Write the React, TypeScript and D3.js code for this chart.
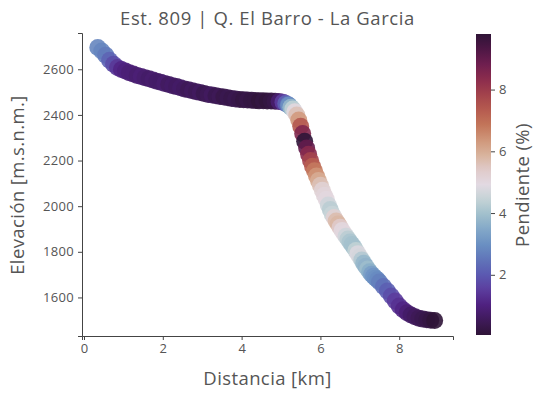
import React, { useEffect, useRef } from "react";
import * as d3 from "d3";

// distance along the stream [km]
const distancia = [
  0.35, 0.45, 0.55, 0.65, 0.75, 0.85, 0.95, 1.05, 1.15, 1.25,
  1.35, 1.45, 1.55, 1.65, 1.75, 1.85, 1.95, 2.05, 2.15, 2.25,
  2.35, 2.45, 2.55, 2.65, 2.75, 2.85, 2.95, 3.05, 3.15, 3.25,
  3.35, 3.45, 3.55, 3.65, 3.75, 3.85, 3.95, 4.05, 4.15, 4.25,
  4.35, 4.45, 4.55, 4.65, 4.75, 4.85, 4.95, 5.05, 5.12, 5.18,
  5.20, 5.25, 5.30, 5.35, 5.40, 5.45, 5.50, 5.55, 5.60, 5.65,
  5.70, 5.75, 5.80, 5.85, 5.90, 5.95, 6.00, 6.05, 6.10, 6.15,
  6.20, 6.25, 6.30, 6.35, 6.40, 6.45, 6.50, 6.55, 6.60, 6.65,
  6.70, 6.75, 6.80, 6.85, 6.90, 6.95, 7.00, 7.05, 7.10, 7.15,
  7.20, 7.25, 7.30, 7.35, 7.40, 7.45, 7.50, 7.60, 7.70, 7.80,
  7.90, 8.00, 8.10, 8.20, 8.30, 8.40, 8.50, 8.60, 8.70, 8.80,
  8.90,
];

// elevation [m.s.n.m.]
const elevacion = [
  2695, 2680, 2662, 2640, 2622, 2608, 2599, 2592, 2585, 2579,
  2573, 2568, 2563, 2558, 2553, 2548, 2543, 2538, 2533, 2528,
  2524, 2519, 2514, 2510, 2506, 2502, 2498, 2494, 2490, 2487,
  2484, 2481, 2478, 2475, 2472, 2470, 2468, 2466, 2465, 2464,
  2463, 2462, 2462, 2461, 2461, 2460, 2459, 2456, 2450, 2445,
  2442, 2434, 2426, 2414, 2400, 2378, 2350, 2318, 2285, 2255,
  2228, 2200, 2175, 2155, 2132, 2112, 2092, 2070, 2048, 2030,
  2005, 1985, 1965, 1950, 1935, 1922, 1908, 1893, 1880, 1868,
  1856, 1843, 1832, 1820, 1806, 1792, 1778, 1764, 1750, 1737,
  1725, 1713, 1702, 1693, 1684, 1677, 1668, 1648, 1628, 1606,
  1584, 1562, 1546, 1533, 1523, 1515, 1509, 1505, 1502, 1500,
  1499,
];

// slope [%]
const pendiente = [
  2.8, 2.8, 2.6, 2.2, 1.8, 1.4, 1.1, 1.0, 0.9, 0.9,
  0.8, 0.9, 0.8, 0.7, 0.8, 0.7, 0.7, 0.8, 0.6, 0.7,
  0.6, 0.7, 0.6, 0.5, 0.6, 0.5, 0.6, 0.4, 0.5, 0.6,
  0.4, 0.5, 0.3, 0.4, 0.3, 0.4, 0.3, 0.2, 0.3, 0.2,
  0.2, 0.1, 0.2, 0.1, 0.2, 0.3, 0.8, 1.5, 2.2, 2.7,
  3.0, 3.8, 4.4, 5.0, 5.6, 6.3, 7.4, 8.5, 9.8, 9.0,
  8.4, 7.8, 7.3, 6.8, 6.4, 6.0, 5.6, 5.2, 5.1, 5.0,
  4.6, 4.3, 4.5, 5.2, 5.7, 5.8, 5.4, 5.0, 5.0, 4.6,
  4.3, 4.1, 4.0, 4.0, 4.4, 4.8, 4.7, 4.2, 3.8, 3.7,
  3.9, 3.6, 3.3, 3.1, 3.0, 2.9, 2.7, 2.4, 2.1, 1.8,
  1.5, 1.3, 1.1, 0.9, 0.7, 0.6, 0.5, 0.4, 0.3, 0.2,
  0.05,
];

const xTicks = [0, 2, 4, 6, 8];
const yTicks = [1600, 1800, 2000, 2200, 2400, 2600];
const cTicks = [2, 4, 6, 8];

// approximation of matplotlib's twilight_shifted
const twilightShifted = [
  "#2f1437", "#3f1a5a", "#4f2180", "#5c3d9e", "#5b59b1", "#6075b9", "#6a8fc2",
  "#82a7c8", "#a0bfcc", "#c4d3d6", "#e2d9e2", "#dfcac9", "#d8b29b", "#cf9578",
  "#c27459", "#b55a4f", "#a2424c", "#8b2c4d", "#6e1e4f", "#4d1745", "#2f1437",
];

const FONT = "'Open Sans', Lato, sans-serif";
const GRAY = "#555";

export default function App() {
  const ref = useRef<SVGSVGElement>(null);

  useEffect(() => {
    const width = 545;
    const height = 399;
    const svg = d3.select(ref.current).attr("width", width).attr("height", height);
    svg.selectAll("*").remove();

    const data = distancia.map((d, i) => ({ x: d, y: elevacion[i], s: pendiente[i] }));

    const x = d3.scaleLinear().domain([-0.051, 9.365]).range([82, 453]);
    const y = d3.scaleLinear().domain([1431, 2759]).range([336, 33]);

    const interp = d3.piecewise(d3.interpolateRgb, twilightShifted);
    const cmin = 0.05;
    const cmax = 9.8;
    const color = (v: number) => interp((v - cmin) / (cmax - cmin));

    // points
    svg.append("g")
      .selectAll("circle")
      .data(data)
      .enter()
      .append("circle")
      .attr("cx", d => x(d.x))
      .attr("cy", d => y(d.y))
      .attr("r", 8.5)
      .attr("fill", d => color(d.s))
      .attr("fill-opacity", 0.9);

    const styleText = (sel: any, size: string, spacing: string) =>
      sel.attr("fill", GRAY)
        .style("font-family", FONT)
        .style("font-size", size)
        .style("letter-spacing", spacing);

    // x axis
    const gx = svg.append("g")
      .attr("transform", `translate(0, 336)`)
      .call(d3.axisBottom(x).tickValues(xTicks).tickSize(4).tickPadding(4).tickFormat(d3.format("d")));
    gx.select(".domain").attr("stroke", "#444");
    gx.selectAll("line").attr("stroke", "#444");
    styleText(gx.selectAll("text"), "13px", "0px");

    // y axis
    const gy = svg.append("g")
      .attr("transform", `translate(82, 0)`)
      .call(d3.axisLeft(y).tickValues(yTicks).tickSize(4).tickPadding(4).tickFormat(d3.format("d")));
    gy.select(".domain").attr("stroke", "#444");
    gy.selectAll("line").attr("stroke", "#444");
    styleText(gy.selectAll("text"), "13px", "0.3px");

    // colorbar
    const cbX = 476;
    const cbW = 15;
    const cbTop = 34;
    const cbBottom = 335;
    const cy = d3.scaleLinear().domain([cmin, cmax]).range([cbBottom, cbTop]);
    const grad = svg.append("defs").append("linearGradient")
      .attr("id", "cbGrad")
      .attr("x1", 0).attr("y1", 1).attr("x2", 0).attr("y2", 0);
    d3.range(0, 1.0001, 0.02).forEach(t => {
      grad.append("stop").attr("offset", t).attr("stop-color", interp(t));
    });
    svg.append("rect")
      .attr("x", cbX)
      .attr("y", cbTop)
      .attr("width", cbW)
      .attr("height", cbBottom - cbTop)
      .attr("fill", "url(#cbGrad)");
    const gc = svg.append("g")
      .attr("transform", `translate(${cbX + cbW}, 0)`)
      .call(d3.axisRight(cy).tickValues(cTicks).tickSize(4).tickPadding(4).tickFormat(d3.format("d")));
    gc.select(".domain").remove();
    gc.selectAll("line").attr("stroke", "#444");
    styleText(gc.selectAll("text"), "13px", "0px");

    // labels
    styleText(svg.append("text")
      .attr("text-anchor", "middle")
      .attr("x", 267.5)
      .attr("y", 25), "18.5px", "0.6px")
      .text("Est. 809 | Q. El Barro - La Garcia");

    styleText(svg.append("text")
      .attr("text-anchor", "middle")
      .attr("x", 267.5)
      .attr("y", 385), "18.5px", "0.4px")
      .text("Distancia [km]");

    styleText(svg.append("text")
      .attr("text-anchor", "middle")
      .attr("transform", "rotate(-90)")
      .attr("x", -185)
      .attr("y", 24), "18.5px", "0.4px")
      .text("Elevación [m.s.n.m.]");

    styleText(svg.append("text")
      .attr("text-anchor", "middle")
      .attr("transform", "rotate(-90)")
      .attr("x", -185)
      .attr("y", 529), "18.5px", "0.4px")
      .text("Pendiente (%)");
  }, []);

  return <svg ref={ref} style={{ position: "absolute", left: 0, top: 0 }} />;
}
